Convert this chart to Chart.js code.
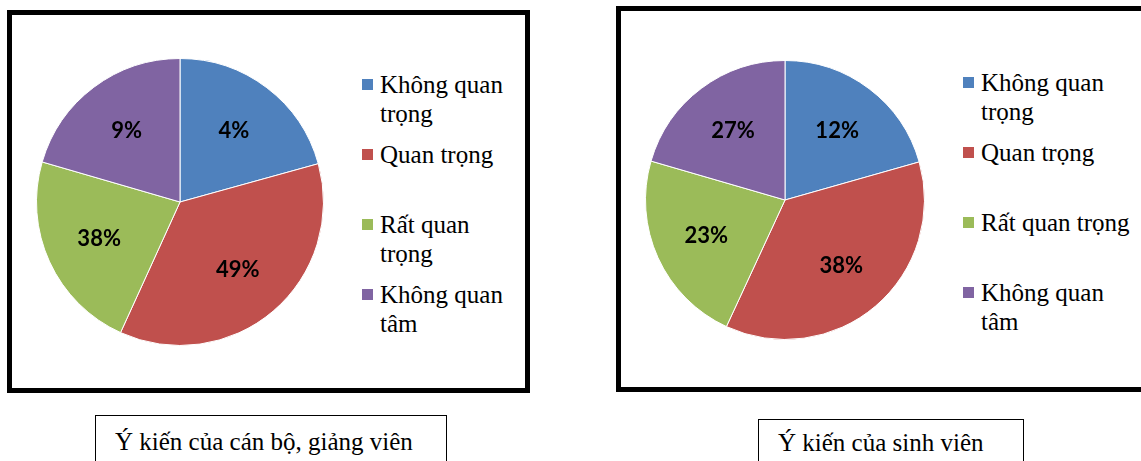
<!DOCTYPE html>
<html lang="vi">
<head>
<meta charset="utf-8">
<title>Ý kiến</title>
<script src="https://cdn.jsdelivr.net/npm/chart.js@4/dist/chart.umd.min.js"></script>
<style>
  html, body { margin: 0; padding: 0; background: #fff; }
  body { width: 1141px; height: 461px; position: relative; overflow: hidden; }
  .frame { position: absolute; box-sizing: border-box; border: 5px solid #000; }
  .frame.left  { left: 7px;   top: 10px; width: 523px; height: 383px; }
  .frame.right { left: 616px; top: 6px;  width: 560px; height: 386px; }
  canvas { position: absolute; }
  .key { position: absolute; }
  .key .item { display: flex; height: 70px; }
  .key .sw { width: 11px; height: 11px; margin-top: 9px; margin-right: 7px; flex: none; }
  .key .txt, .caption {
    font-family: "Liberation Serif", "Times New Roman", Times, serif;
    font-size: 25px; line-height: 29px; color: #000;
  }
  .caption { position: absolute; box-sizing: border-box; border: 1.5px solid #000; white-space: nowrap; }
  .caption.left  { left: 95px;  top: 415px; width: 352px; height: 70px; padding: 11px 0 0 19px; }
  .caption.right { left: 758px; top: 419px; width: 266px; height: 70px; padding: 8px 0 0 19px; }
</style>
</head>
<body>
<div class="frame left"></div>
<div class="frame right"></div>

<canvas id="pie-staff"   width="288" height="288" style="left:36px;top:58px"></canvas>
<canvas id="pie-student" width="280" height="280" style="left:645px;top:60px"></canvas>

<div class="key" id="legend-staff"   style="left:362px;top:70px;width:145px"></div>
<div class="key" id="legend-student" style="left:963px;top:68px;width:178px"></div>

<div class="caption left">Ý kiến của cán bộ, giảng viên</div>
<div class="caption right">Ý kiến của sinh viên</div>

<script>
// --- Data ---
const categories = ['Không quan trọng', 'Quan trọng', 'Rất quan trọng', 'Không quan tâm'];
const colors     = ['#4F81BD', '#C0504D', '#9BBB59', '#8064A2'];

// slice sizes as drawn in the picture
const staffSlices   = [20.7, 36.1, 22.7, 20.5];
const studentSlices = [20.6, 36.3, 22.6, 20.5];

// percentage texts printed on the slices
const staffLabels   = ['4%', '49%', '38%', '9%'];
const studentLabels = ['12%', '38%', '23%', '27%'];

// --- Labels inside slices ---
const sliceLabels = {
  id: 'sliceLabels',
  afterDatasetsDraw(chart, args, opts) {
    const ctx  = chart.ctx;
    const meta = chart.getDatasetMeta(0);
    ctx.save();
    ctx.font = 'bold 22px Lato, "Open Sans", sans-serif';
    ctx.fillStyle = '#000';
    ctx.textAlign = 'center';
    ctx.textBaseline = 'middle';
    meta.data.forEach((arc, i) => {
      const p   = arc.getProps(['x', 'y', 'startAngle', 'endAngle', 'outerRadius'], true);
      const mid = (p.startAngle + p.endAngle) / 2;
      const r   = p.outerRadius * 0.62;
      ctx.fillText(opts.texts[i], p.x + Math.cos(mid) * r, p.y + Math.sin(mid) * r);
    });
    ctx.restore();
  }
};

// --- Chart factory ---
function makePie(id, values, texts) {
  return new Chart(document.getElementById(id), {
    type: 'pie',
    data: {
      labels: categories,
      datasets: [{
        data: values,
        backgroundColor: colors,
        borderColor: '#ffffff',
        borderWidth: 1,
      }]
    },
    options: {
      responsive: false,
      animation: false,
      layout: { padding: 0 },
      plugins: {
        legend: { display: false },
        tooltip: { enabled: false },
        sliceLabels: { texts: texts },
      }
    },
    plugins: [sliceLabels]
  });
}

// --- HTML legend ---
function buildLegend(chart, el) {
  chart.data.labels.forEach((name, i) => {
    const item = document.createElement('div');
    item.className = 'item';
    const sw = document.createElement('span');
    sw.className = 'sw';
    sw.style.background = chart.data.datasets[0].backgroundColor[i];
    const txt = document.createElement('span');
    txt.className = 'txt';
    txt.textContent = name;
    item.appendChild(sw);
    item.appendChild(txt);
    el.appendChild(item);
  });
}

// --- Boot ---
const staffChart   = makePie('pie-staff', staffSlices, staffLabels);
const studentChart = makePie('pie-student', studentSlices, studentLabels);
buildLegend(staffChart, document.getElementById('legend-staff'));
buildLegend(studentChart, document.getElementById('legend-student'));
</script>
</body>
</html>
